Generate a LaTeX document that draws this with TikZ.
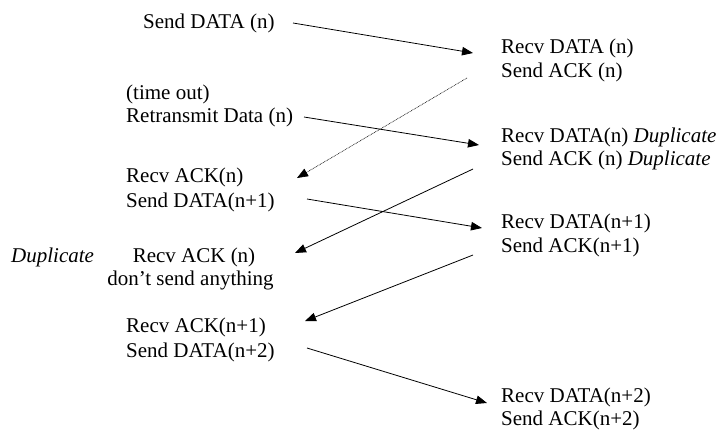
\documentclass[tikz,border=0pt]{standalone}
\usepackage{fontspec}
\setmainfont{Liberation Serif}
\usetikzlibrary{arrows.meta}
\begin{document}
\begin{tikzpicture}[x=1pt,y=-1pt,
  lbl/.style={inner sep=0pt, anchor=base west, font=\fontsize{21}{24}\selectfont},
  clbl/.style={inner sep=0pt, anchor=base, font=\fontsize{21}{24}\selectfont},
  msg/.style={line width=0.8pt, -{Triangle[length=11pt,width=8.5pt]}},
  lost/.style={line width=0.6pt, dash pattern=on 0.8pt off 0.8pt, -{Triangle[length=11pt,width=8.5pt]}}]
\useasboundingbox (0,0) rectangle (727,432);
% left (sender)
\node[lbl] (sd1) at (143,28) {Send DATA (n)};
\node[lbl] (to) at (126,99) {(time out)};
\node[lbl] (rt) at (126,122) {Retransmit Data (n)};
\node[lbl] (ra1) at (126,182) {Recv ACK(n)};
\node[lbl] (sd2) at (126,207) {Send DATA(n+1)};
\node[lbl, font=\fontsize{21}{24}\selectfont\itshape] (dupl) at (11,262) {Duplicate};
\node[clbl] (ra2) at (194,262) {Recv ACK (n)};
\node[clbl] (dsa) at (190.5,285) {don't send anything};
\node[lbl] (ra3) at (126,332) {Recv ACK(n+1)};
\node[lbl] (sd3) at (126,357) {Send DATA(n+2)};
% right (receiver)
\node[lbl] (rd1) at (501,53) {Recv DATA (n)};
\node[lbl] (sa1) at (501,77) {Send ACK (n)};
\node[lbl] (rd2) at (501,142) {Recv DATA(n) \textit{Duplicate}};
\node[lbl] (sa2) at (501,165) {Send ACK (n) \textit{Duplicate}};
\node[lbl] (rd3) at (501,228) {Recv DATA(n+1)};
\node[lbl] (sa3) at (501,252) {Send ACK(n+1)};
\node[lbl] (rd4) at (501,402) {Recv DATA(n+2)};
\node[lbl] (sa4) at (501,425) {Send ACK(n+2)};
% connector ends
\coordinate (a1s) at (293,23);  \coordinate (a1e) at (473,53);
\coordinate (a2s) at (304,117); \coordinate (a2e) at (479,145);
\coordinate (a3s) at (467,78);  \coordinate (a3e) at (297,178);
\coordinate (a4s) at (307,199); \coordinate (a4e) at (482,228);
\coordinate (a5s) at (473,169); \coordinate (a5e) at (295,253);
\coordinate (a6s) at (473,255); \coordinate (a6e) at (305,321);
\coordinate (a7s) at (307,348); \coordinate (a7e) at (487,403);
\draw[msg] (a1s) -- (a1e);
\draw[msg] (a2s) -- (a2e);
\draw[lost] (a3s) -- (a3e);
\draw[msg] (a4s) -- (a4e);
\draw[msg] (a5s) -- (a5e);
\draw[msg] (a6s) -- (a6e);
\draw[msg] (a7s) -- (a7e);
\end{tikzpicture}
\end{document}
